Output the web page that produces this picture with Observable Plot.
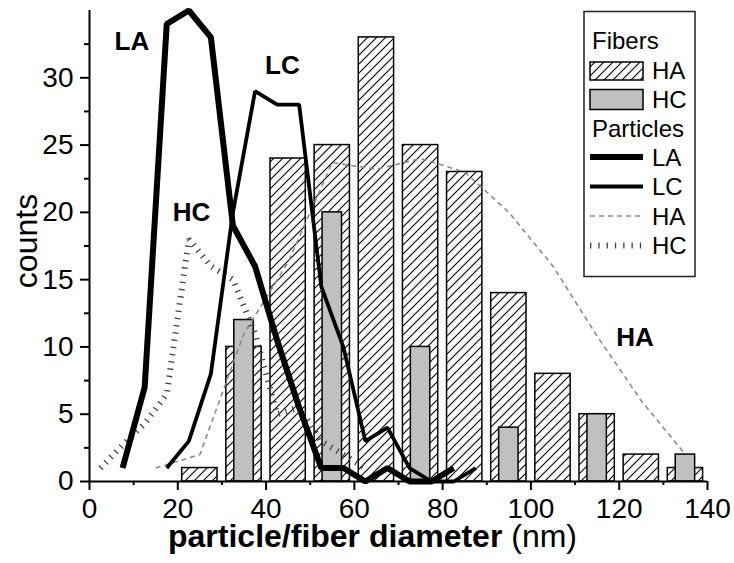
<!DOCTYPE html>
<html><head><meta charset="utf-8">
<script src="https://cdn.jsdelivr.net/npm/d3@7"></script>
<script src="https://cdn.jsdelivr.net/npm/@observablehq/plot@0.6"></script>
<style>
html,body{margin:0;padding:0;background:#fff;}
#chart svg{display:block;}
</style></head><body><div id="chart"></div>
<script>
// ---- data ----
const fiberCentersHA = [25, 35, 45, 55, 65, 75, 85, 95, 105, 115, 125, 135];
const fiberCountsHA  = [1, 10, 24, 25, 33, 25, 23, 14, 8, 5, 2, 1];
const fiberCentersHC = [35, 55, 75, 95, 115, 135];
const fiberCountsHC  = [12, 20, 10, 4, 5, 2];

const partLA_x = [7.5, 12.5, 17.5, 22.5, 27.5, 32.5, 37.5, 42.5, 47.5, 52.5, 57.5, 62.5, 67.5, 72.5, 77.5, 82.5];
const partLA_y = [1, 7, 34, 35, 33, 19, 16, 10.5, 5.5, 1, 1, 0, 1, 0, 0, 1];
const partLC_x = [17.5, 22.5, 27.5, 32.5, 37.5, 42.5, 47.5, 52.5, 57.5, 62.5, 67.5, 72.5, 77.5, 82.5, 87.5];
const partLC_y = [1, 3, 8, 20, 29, 28, 28, 14.5, 10, 3, 4, 1, 0, 0, 1];
const partHA_x = [15, 25, 35, 45, 55, 65, 75, 85, 95, 105, 115, 125, 135];
const partHA_y = [1, 2, 11, 16.3, 23.7, 23.2, 24, 23, 20, 16, 10.8, 6, 2];
const partHC_x = [2.5, 7.5, 12.5, 17.5, 22.5, 27.5, 32.5, 37.5, 42.5, 47.5, 52.5, 57.5, 62.5];
const partHC_y = [1, 2.7, 4.3, 6.5, 18, 16, 15, 11, 5, 5.5, 3, 2, 1];

const xMajor = [0, 20, 40, 60, 80, 100, 120, 140];
const xMinor = [10, 30, 50, 70, 90, 110, 130];
const yMajor = [0, 5, 10, 15, 20, 25, 30];
const yMinor = [2.5, 7.5, 12.5, 17.5, 22.5, 27.5, 32.5];

const annotText = ["LA", "LC", "HC", "HA"];
const annotX = [9.6, 43.7, 23.1, 123.6];
const annotY = [32.7, 30.9, 20.0, 10.7];

const xLabelBold = "particle/fiber diameter";
const xLabelRegular = "(nm)";
const yLabel = "counts";

// ---- build tables ----
const barsHA = fiberCentersHA.map((c, i) => ({c, v: fiberCountsHA[i]}));
const barsHC = fiberCentersHC.map((c, i) => ({c, v: fiberCountsHC[i]}));
const zip = (xs, ys) => xs.map((x, i) => ({x, y: ys[i]}));
const annots = annotText.map((t, i) => ({t, x: annotX[i], y: annotY[i]}));

const FONT = "Liberation Sans, Arial, Helvetica, sans-serif";
const hatchHalf = 4, grayHalf = 2.2;

const plot = Plot.plot({
  width: 734, height: 563,
  marginLeft: 89, marginRight: 27, marginTop: 10, marginBottom: 82,
  style: {fontFamily: FONT, background: "white", color: "black", overflow: "visible"},
  x: {domain: [0, 140], axis: null},
  y: {domain: [0, 35], axis: null},
  marks: [
    Plot.rect(barsHA, {x1: d => d.c - hatchHalf, x2: d => d.c + hatchHalf, y1: 0, y2: "v",
      fill: "url(#hatch)", stroke: "black", strokeWidth: 1.5}),
    Plot.rect(barsHC, {x1: d => d.c - grayHalf, x2: d => d.c + grayHalf, y1: 0, y2: "v",
      fill: "#c0c0c0", stroke: "black", strokeWidth: 1.5}),
    Plot.line(zip(partHA_x, partHA_y), {x: "x", y: "y", stroke: "#8a8a8a", strokeWidth: 1.6,
      strokeDasharray: "5,4", strokeLinejoin: "miter", strokeLinecap: "butt"}),
    Plot.line(zip(partHC_x, partHC_y), {x: "x", y: "y", stroke: "#444", strokeWidth: 6,
      strokeDasharray: "1.3,6", strokeLinejoin: "miter", strokeLinecap: "butt"}),
    Plot.line(zip(partLC_x, partLC_y), {x: "x", y: "y", stroke: "black", strokeWidth: 3.8,
      strokeLinejoin: "miter", strokeLinecap: "butt"}),
    Plot.line(zip(partLA_x, partLA_y), {x: "x", y: "y", stroke: "black", strokeWidth: 6,
      strokeLinejoin: "miter", strokeLinecap: "butt"}),
    Plot.ruleX([0], {stroke: "black", strokeWidth: 2}),
    Plot.ruleY([0], {stroke: "black", strokeWidth: 2}),
    Plot.axisX(xMajor, {anchor: "bottom", tickSize: 9, tickPadding: 8, fontSize: 28, strokeWidth: 2, label: null, tickFormat: d => String(d)}),
    Plot.axisX(xMinor, {anchor: "bottom", tickSize: 4, tickPadding: 0, strokeWidth: 2, label: null, tickFormat: () => ""}),
    Plot.axisY(yMajor, {anchor: "left", tickSize: 9, tickPadding: 7, fontSize: 28, strokeWidth: 2, label: null, tickFormat: d => String(d)}),
    Plot.axisY(yMinor, {anchor: "left", tickSize: 5, tickPadding: 0, strokeWidth: 2, label: null, tickFormat: () => ""}),
    Plot.text(annots, {x: "x", y: "y", text: "t", fontSize: 26, fontWeight: "bold", fill: "black"})
  ]
});

const svg = d3.select(plot);
// hatch pattern
const defs = svg.insert("defs", ":first-child");
const pat = defs.append("pattern").attr("id", "hatch").attr("patternUnits", "userSpaceOnUse")
  .attr("width", 9).attr("height", 9);
pat.append("rect").attr("width", 9).attr("height", 9).attr("fill", "white");
pat.append("path").attr("d", "M-2,2 L2,-2 M0,9 L9,0 M7,11 L11,7")
  .attr("stroke", "black").attr("stroke-width", 1.1).attr("fill", "none");

// axis titles
const xt = svg.append("text").attr("x", 168).attr("y", 547).attr("text-anchor", "start")
  .attr("font-family", FONT).attr("font-size", 32).attr("fill", "black")
  .style("white-space", "pre");
xt.append("tspan").attr("font-weight", "bold").text(xLabelBold + " ");
xt.append("tspan").attr("font-weight", "normal").text(xLabelRegular);

svg.append("text").attr("transform", "translate(37,241) rotate(-90)")
  .attr("text-anchor", "middle").attr("font-family", FONT).attr("font-size", 32)
  .attr("fill", "black").text(yLabel);

// legend
const lg = svg.append("g").attr("font-family", FONT).attr("font-size", 24)
  .attr("fill", "black").attr("text-anchor", "start");
lg.append("rect").attr("x", 584).attr("y", 11.5).attr("width", 111).attr("height", 265)
  .attr("fill", "white").attr("stroke", "#222").attr("stroke-width", 1.5);
lg.append("text").attr("x", 592).attr("y", 49).text("Fibers");
lg.append("rect").attr("x", 590).attr("y", 62).attr("width", 53).attr("height", 18)
  .attr("fill", "url(#hatch)").attr("stroke", "black").attr("stroke-width", 1.5);
lg.append("text").attr("x", 652).attr("y", 79).text("HA");
lg.append("rect").attr("x", 590).attr("y", 89.5).attr("width", 53).attr("height", 20)
  .attr("fill", "#c0c0c0").attr("stroke", "black").attr("stroke-width", 1.5);
lg.append("text").attr("x", 652).attr("y", 108).text("HC");
lg.append("text").attr("x", 592).attr("y", 137).text("Particles");
const lineItems = [
  {y: 157, label: "LA", stroke: "black", w: 6, dash: null},
  {y: 186.5, label: "LC", stroke: "black", w: 3.8, dash: null},
  {y: 216, label: "HA", stroke: "#8a8a8a", w: 1.6, dash: "5,4"},
  {y: 245.5, label: "HC", stroke: "#444", w: 6, dash: "1.3,7"}
];
for (const it of lineItems) {
  const l = lg.append("line").attr("x1", 590).attr("x2", 643).attr("y1", it.y).attr("y2", it.y)
    .attr("stroke", it.stroke).attr("stroke-width", it.w);
  if (it.dash) l.attr("stroke-dasharray", it.dash);
  lg.append("text").attr("x", 652).attr("y", it.y + 8.5).text(it.label);
}

document.getElementById("chart").appendChild(plot);
</script></body></html>
